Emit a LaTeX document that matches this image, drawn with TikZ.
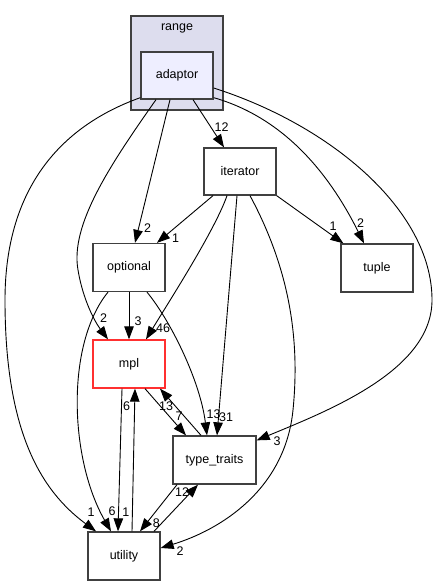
\documentclass[tikz,border=0pt]{standalone}
\usepackage{fontspec}
\setmainfont{Liberation Sans}
\usetikzlibrary{arrows.meta,calc}
\definecolor{clfill}{HTML}{DDDDEE}
\definecolor{adfill}{HTML}{EEEEFF}
\definecolor{bord}{HTML}{404040}
\definecolor{mplred}{HTML}{FF3030}
\begin{document}
\begin{tikzpicture}[x=1pt,y=-1pt,
  box/.style={draw=bord,line width=1.3pt,fill=white,minimum width=72pt,minimum height=48pt,inner sep=0pt,font=\fontsize{12.5}{14}\selectfont},
  lbl/.style={font=\fontsize{12.5}{14}\selectfont,inner sep=0pt},
  dep/.style={draw=black,line width=0.9pt,-{Triangle[length=13pt,width=9.5pt]}}]
\useasboundingbox (0,0) rectangle (437,585);
% cluster
\node[draw=bord,line width=1.3pt,fill=clfill,minimum width=92pt,minimum height=94pt,inner sep=0pt] (range) at (177,63) {};
\node[lbl] (rangelabel) at (177,28) {range};
% nodes
\node[box,fill=adfill,minimum height=47pt] (adaptor) at (177,75.5) {adaptor};
\node[box,minimum height=47pt] (iterator) at (240,171.5) {iterator};
\node[box] (optional) at (129,267.5) {optional};
\node[box,draw=mplred] (mpl) at (129,364) {mpl};
\node[box] (tuple) at (377,268) {tuple};
\node[box,minimum width=83pt] (typetraits) at (214.5,460) {type\_traits};
\node[box] (utility) at (124,556) {utility};
% edges
\draw[dep] ([yshift=2pt]adaptor.south west) .. controls (50,130) and (5,200) .. (5,300) .. controls (5,430) and (40,490) .. ([xshift=-28pt]utility.north);
\draw[dep] ([xshift=-21pt]adaptor.south) .. controls (110,165) and (70,225) .. (78,270) .. controls (83,300) and (95,322) .. ([xshift=-21pt]mpl.north);
\draw[dep] ([xshift=-7pt]adaptor.south) -- ([xshift=6pt]optional.north);
\draw[dep] ([xshift=16pt]adaptor.south) -- ([xshift=-16pt]iterator.north);
\draw[dep] ([yshift=2pt]adaptor.south east) .. controls (285,118) and (330,175) .. ([xshift=-13pt]tuple.north);
\draw[dep] ([yshift=-12.5pt]adaptor.east) .. controls (330,125) and (432,210) .. (432,300) .. controls (432,370) and (330,410) .. ([yshift=-5pt]typetraits.north east);
\draw[dep] ([xshift=-27pt]iterator.south) -- ([xshift=28pt]optional.north);
\draw[dep] ([xshift=-13pt]iterator.south) .. controls (215,230) and (170,300) .. ([xshift=17pt]mpl.north);
\draw[dep] ([xshift=-3pt]iterator.south) -- ([xshift=2.5pt]typetraits.north);
\draw[dep] ([xshift=10pt]iterator.south) .. controls (290,270) and (300,340) .. (293,410) .. controls (285,490) and (220,530) .. ([yshift=8pt]utility.east);
\draw[dep] (iterator.south east) -- ([xshift=3pt]tuple.north west);
\draw[dep] (optional.south) -- (mpl.north);
\draw[dep] ([xshift=18pt]optional.south) .. controls (170,320) and (200,380) .. ([xshift=-7.5pt]typetraits.north);
\draw[dep] ([xshift=-21pt]optional.south) .. controls (65,345) and (70,460) .. ([xshift=-13pt]utility.north);
\draw[dep] ([xshift=-7pt]mpl.south) -- ([xshift=-6pt]utility.north);
\draw[dep] ([xshift=8pt]utility.north) -- ([xshift=6pt]mpl.south);
\draw[dep] ([xshift=16pt]mpl.south) -- ([xshift=-28.5pt]typetraits.north);
\draw[dep] ([xshift=-13.5pt]typetraits.north) -- ([xshift=31pt]mpl.south);
\draw[dep] ([xshift=-37.5pt]typetraits.south) -- ([xshift=16pt]utility.north);
\draw[dep] ([xshift=30pt]utility.north) -- ([xshift=-16.5pt]typetraits.south);
% labels
\node[lbl] (l1) at (221.5,127.5) {12};
\node[lbl] (l2) at (147.5,228) {2};
\node[lbl] (l3) at (175.5,238) {1};
\node[lbl] (l4) at (103.5,318.5) {2};
\node[lbl] (l5) at (138,321) {3};
\node[lbl] (l6) at (163,328.5) {46};
\node[lbl] (l7) at (333,226) {1};
\node[lbl] (l8) at (360.5,223) {2};
\node[lbl] (l9) at (213.5,414.5) {13};
\node[lbl] (l10) at (226,417.5) {31};
\node[lbl] (l11) at (277,441) {3};
\node[lbl] (l12) at (166,406.5) {13};
\node[lbl] (l13) at (179,416) {7};
\node[lbl] (l14) at (126.7,406) {6};
\node[lbl] (l15) at (182,492) {12};
\node[lbl] (l16) at (156.3,523) {8};
\node[lbl] (l17) at (91,512.5) {1};
\node[lbl] (l18) at (112,511) {6};
\node[lbl] (l19) at (125.8,512.5) {1};
\node[lbl] (l20) at (180,551) {2};
\end{tikzpicture}
\end{document}
